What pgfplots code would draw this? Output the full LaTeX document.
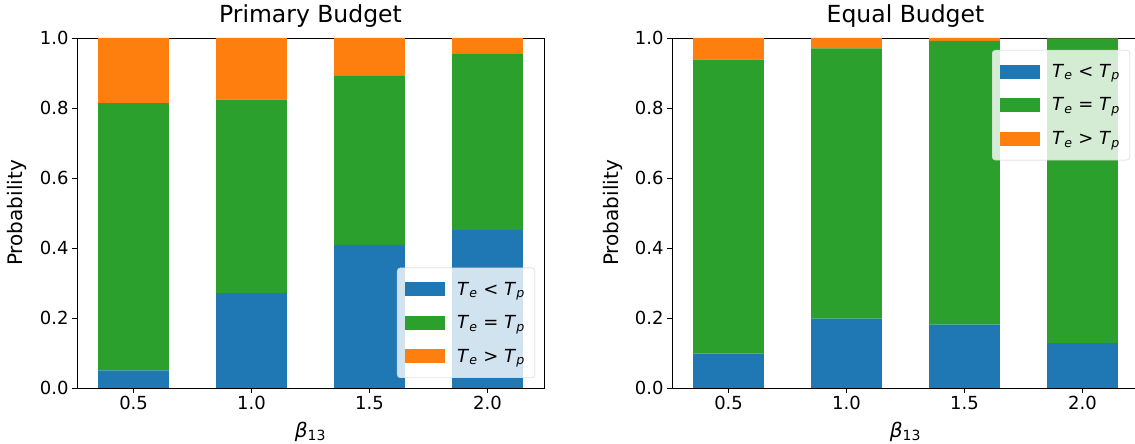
\documentclass[border=0pt]{standalone}
\usepackage{pgfplots}
\pgfplotsset{compat=1.18}
\usepackage{fontspec}
\setmainfont{DejaVu Sans}

\definecolor{tabblue}{HTML}{1F77B4}
\definecolor{tabgreen}{HTML}{2CA02C}
\definecolor{taborange}{HTML}{FF7F0E}

\newcommand{\Te}{\textit{T}\textsubscript{\textit{e}}}
\newcommand{\Tp}{\textit{T}\textsubscript{\textit{p}}}

\pgfplotsset{
  budget/.style={
    scale only axis, width=467pt, height=350pt, anchor=south west,
    ybar stacked, bar width=0.3,
    xmin=0.26, xmax=2.24, ymin=0, ymax=1,
    xtick={0.5,1,1.5,2}, xticklabels={0.5,1.0,1.5,2.0},
    ytick={0,0.2,0.4,0.6,0.8,1}, yticklabels={0.0,0.2,0.4,0.6,0.8,1.0},
    /pgf/number format/assume math mode=true,
    tick label style={font=\fontsize{18}{20}\selectfont},
    xtick pos=bottom, ytick pos=left, tick align=outside,
    major tick length=5pt, tick style={black, line width=0.8pt},
    axis line style={line width=0.8pt},
    title style={font=\fontsize{23.5}{26}\selectfont, at={(axis description cs:0.5,1)}, anchor=base, yshift=9pt},
    every axis y label/.style={at={(axis description cs:0,0.5)}, rotate=90, anchor=base, yshift=54pt, font=\fontsize{20}{22}\selectfont},
    every axis x label/.style={at={(axis description cs:0.5,0)}, anchor=center, yshift=-44pt, font=\fontsize{20}{22}\selectfont},
    ylabel={Probability}, xlabel={\textit{β}\textsubscript{13}},
    legend cell align=left,
    legend image code/.code={\fill[#1, fill opacity=1, sharp corners] (0pt,-7pt) rectangle (40pt,7pt);},
    legend style={fill=white, fill opacity=0.8, text opacity=1, draw=black!20, draw opacity=1,
      rounded corners=3pt, font=\fontsize{18}{20}\selectfont, row sep=15pt,
      inner xsep=8pt, inner ysep=12pt,
      /tikz/every odd column/.append style={column sep=10pt}},
  },
  every axis plot/.append style={draw=none},
}

\begin{document}
\begin{tikzpicture}
\begin{axis}[budget, at={(77pt,56pt)}, title={Primary Budget},
  legend style={at={(1,0)}, anchor=south east, xshift=-9pt, yshift=10pt}]
  \addplot[fill=tabblue] coordinates {(0.5,0.050) (1.0,0.271) (1.5,0.409) (2.0,0.452)};
  \addplot[fill=tabgreen] coordinates {(0.5,0.764) (1.0,0.553) (1.5,0.483) (2.0,0.504)};
  \addplot[fill=taborange] coordinates {(0.5,0.186) (1.0,0.176) (1.5,0.108) (2.0,0.044)};
  \legend{\Te\ < \Tp, \Te\ = \Tp, \Te\ > \Tp}
\end{axis}
\begin{axis}[budget, at={(672pt,56pt)}, title={Equal Budget},
  legend style={at={(1,1)}, anchor=north east, xshift=-9pt, yshift=-12pt}]
  \addplot[fill=tabblue] coordinates {(0.5,0.098) (1.0,0.198) (1.5,0.181) (2.0,0.128)};
  \addplot[fill=tabgreen] coordinates {(0.5,0.840) (1.0,0.772) (1.5,0.811) (2.0,0.871)};
  \addplot[fill=taborange] coordinates {(0.5,0.062) (1.0,0.030) (1.5,0.008) (2.0,0.001)};
  \legend{\Te\ < \Tp, \Te\ = \Tp, \Te\ > \Tp}
\end{axis}
\pgfresetboundingbox
\path (0pt,0pt) rectangle (1135pt,444pt);
\end{tikzpicture}
\end{document}
